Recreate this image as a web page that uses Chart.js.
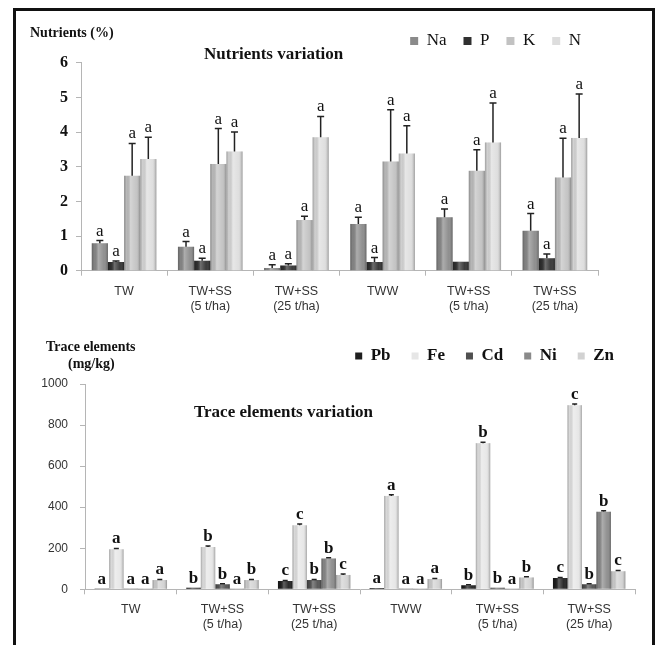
<!DOCTYPE html>
<html>
<head>
<meta charset="utf-8">
<script src="https://cdn.jsdelivr.net/npm/chart.js@4.4.0/dist/chart.umd.min.js"></script>
<style>
  body { margin: 0; background: #fff; width: 661px; height: 645px; overflow: hidden; position: relative; }
  canvas { position: absolute; left: 0; }
  #nutrients { top: 0; }
  #traces { top: 320px; }
  .frame { position: absolute; left: 13px; top: 8px; width: 642px; height: 660px; border: 3px solid #111; box-sizing: border-box; pointer-events: none; }
  .t { position: absolute; font-family: "Liberation Serif", "Times New Roman", serif; font-weight: bold; white-space: nowrap; line-height: 1; color: #111; }
</style>
</head>
<body>
<canvas id="nutrients" width="661" height="320"></canvas>
<canvas id="traces" width="661" height="325"></canvas>
<div class="t" style="left:30px;top:26px;font-size:14px">Nutrients (%)</div>
<div class="t" style="left:204px;top:45px;font-size:17px">Nutrients variation</div>
<div class="t" style="left:46px;top:340px;font-size:14px">Trace elements</div>
<div class="t" style="left:68px;top:357px;font-size:14px">(mg/kg)</div>
<div class="t" style="left:194px;top:403px;font-size:17px">Trace elements variation</div>
<div class="frame"></div>
<script>
const categories = ['TW', ['TW+SS', '(5 t/ha)'], ['TW+SS', '(25 t/ha)'], 'TWW', ['TW+SS', '(5 t/ha)'], ['TW+SS', '(25 t/ha)']];

// Nutrients (%) - mean and error (upper part only)
const naValues = [0.79, 0.69, 0.08, 1.35, 1.54, 1.15];
const naErr    = [0.08, 0.15, 0.09, 0.19, 0.24, 0.50];
const pValues  = [0.25, 0.29, 0.15, 0.25, 0.26, 0.36];
const pErr     = [0.03, 0.07, 0.05, 0.13, 0, 0.12];
const kValues  = [2.74, 3.08, 1.46, 3.15, 2.88, 2.69];
const kErr     = [0.93, 1.02, 0.11, 1.49, 0.61, 1.13];
const nValues  = [3.22, 3.44, 3.85, 3.38, 3.70, 3.83];
const nErr     = [0.63, 0.56, 0.60, 0.80, 1.14, 1.27];
const naLetters = ['a', 'a', 'a', 'a', 'a', 'a'];
const pLetters  = ['a', 'a', 'a', 'a', '', 'a'];
const kLetters  = ['a', 'a', 'a', 'a', 'a', 'a'];
const nLetters  = ['a', 'a', 'a', 'a', 'a', 'a'];
const nutrientTicks = [0, 1, 2, 3, 4, 5, 6];

// Trace elements (mg/kg)
const pbValues = [1, 8, 40, 6, 20, 55];
const feValues = [195, 206, 312, 455, 712, 897];
const cdValues = [1, 25, 45, 1, 8, 25];
const niValues = [0.5, 0.5, 150, 0.5, 0.5, 378];
const znValues = [45, 45, 70, 50, 58, 88];
const pbErr = [0, 0, 3, 0, 2, 3];
const feErr = [4, 5, 6, 5, 4, 5];
const cdErr = [0, 2, 3, 0, 0, 2];
const niErr = [0, 0, 4, 0, 0, 5];
const znErr = [3, 3, 4, 3, 3, 4];
const pbLetters = ['a', 'b', 'c', 'a', 'b', 'c'];
const feLetters = ['a', 'b', 'c', 'a', 'b', 'c'];
const cdLetters = ['a', 'b', 'b', 'a', 'b', 'b'];
const niLetters = ['a', 'a', 'b', 'a', 'a', 'b'];
const znLetters = ['a', 'b', 'c', 'a', 'b', 'c'];
const traceTicks = [0, 200, 400, 600, 800, 1000];

const SERIF = '"Liberation Serif", "Times New Roman", serif';
const SANS = '"Liberation Sans", Arial, sans-serif';

// extra room under the legend
const legendGap = {
  id: 'legendGap',
  afterInit(chart, args, opts) {
    const fit = chart.legend.fit;
    chart.legend.fit = function () {
      fit.call(this);
      this.height += opts.extra || 0;
    };
  }
};

// cylinder-like shading on top of the bars
const barShade = {
  id: 'barShade',
  afterDatasetDraw(chart, args) {
    const ctx = chart.ctx;
    ctx.save();
    args.meta.data.forEach(bar => {
      const { x, y, base, width } = bar.getProps(['x', 'y', 'base', 'width'], true);
      const l = x - width / 2;
      const g = ctx.createLinearGradient(l, 0, l + width, 0);
      g.addColorStop(0, 'rgba(0,0,0,0.28)');
      g.addColorStop(0.15, 'rgba(0,0,0,0.05)');
      g.addColorStop(0.4, 'rgba(255,255,255,0.3)');
      g.addColorStop(0.75, 'rgba(255,255,255,0.05)');
      g.addColorStop(1, 'rgba(0,0,0,0.3)');
      ctx.fillStyle = g;
      ctx.fillRect(l, Math.min(y, base), width, Math.abs(base - y));
    });
    ctx.restore();
  }
};

// error bars + significance letters
const errorBars = {
  id: 'errorBars',
  afterDatasetsDraw(chart, args, opts) {
    const ctx = chart.ctx;
    const yScale = chart.scales.y;
    ctx.save();
    chart.data.datasets.forEach((ds, di) => {
      const meta = chart.getDatasetMeta(di);
      meta.data.forEach((bar, i) => {
        const v = ds.data[i];
        const e = ds.err ? ds.err[i] : 0;
        const top = yScale.getPixelForValue(v + e);
        if (e > 0) {
          ctx.strokeStyle = '#222';
          ctx.lineWidth = opts.lineWidth;
          ctx.beginPath();
          ctx.moveTo(bar.x, yScale.getPixelForValue(v));
          ctx.lineTo(bar.x, top);
          ctx.moveTo(bar.x - opts.cap / 2, top);
          ctx.lineTo(bar.x + opts.cap / 2, top);
          ctx.stroke();
        }
        const letter = ds.letters ? ds.letters[i] : '';
        if (letter) {
          ctx.fillStyle = '#111';
          ctx.font = opts.font;
          ctx.textAlign = 'center';
          ctx.textBaseline = 'alphabetic';
          ctx.fillText(letter, bar.x, top - opts.gap);
        }
      });
    });
    ctx.restore();
  }
};

function makeChart(id, datasets, cfg) {
  return new Chart(document.getElementById(id), {
    type: 'bar',
    data: { labels: categories, datasets: datasets },
    plugins: [legendGap, barShade, errorBars],
    options: {
      responsive: false,
      animation: false,
      layout: { padding: cfg.padding },
      datasets: { bar: { categoryPercentage: cfg.catPct, barPercentage: 1.0, borderWidth: 0 } },
      plugins: {
        legend: {
          position: 'top',
          align: 'end',
          labels: {
            boxWidth: cfg.box,
            boxHeight: cfg.box,
            padding: cfg.legendPad,
            color: '#111',
            font: cfg.legendFont
          }
        },
        legendGap: { extra: cfg.legendExtra },
        errorBars: cfg.errorBars,
        tooltip: { enabled: false }
      },
      scales: {
        x: {
          afterFit: s => { s.height = cfg.xHeight; },
          grid: { display: true, drawOnChartArea: false, drawTicks: true, tickLength: 5, color: '#b5b5b5', offset: true },
          border: { display: true, color: '#b5b5b5' },
          ticks: { padding: cfg.xPad, color: '#333', font: { family: SANS, size: 12.5, lineHeight: 1.15 } }
        },
        y: {
          min: cfg.ticks[0],
          max: cfg.ticks[cfg.ticks.length - 1],
          afterFit: s => { s.width = cfg.yWidth; },
          afterBuildTicks: s => { s.ticks = cfg.ticks.map(v => ({ value: v })); },
          grid: { display: true, drawOnChartArea: false, drawTicks: true, tickLength: 5, color: '#b5b5b5' },
          border: { display: true, color: '#b5b5b5' },
          ticks: { padding: cfg.yPad, color: cfg.yColor, font: cfg.yFont, callback: v => String(v) }
        }
      }
    }
  });
}

makeChart('nutrients', [
  { label: 'Na', data: naValues, err: naErr, letters: naLetters, backgroundColor: '#8a8a8a' },
  { label: 'P', data: pValues, err: pErr, letters: pLetters, backgroundColor: '#303030' },
  { label: 'K', data: kValues, err: kErr, letters: kLetters, backgroundColor: '#c2c2c2' },
  { label: 'N', data: nValues, err: nErr, letters: nLetters, backgroundColor: '#dddddd' }
], {
  padding: { top: 15.5, right: 63, left: 0, bottom: 0 },
  catPct: 0.75,
  box: 8,
  legendPad: 17,
  legendFont: { family: SERIF, size: 17 },
  legendExtra: 3.2,
  errorBars: { lineWidth: 1.5, cap: 7, gap: 5, font: '17px ' + SERIF },
  xHeight: 49.3,
  xPad: 9,
  yWidth: 81,
  yPad: 8,
  ticks: nutrientTicks,
  yColor: '#111',
  yFont: { family: SERIF, size: 16, weight: 'bold' }
});

makeChart('traces', [
  { label: 'Pb', data: pbValues, err: pbErr, letters: pbLetters, backgroundColor: '#1e1e1e' },
  { label: 'Fe', data: feValues, err: feErr, letters: feLetters, backgroundColor: '#e6e6e6' },
  { label: 'Cd', data: cdValues, err: cdErr, letters: cdLetters, backgroundColor: '#505050' },
  { label: 'Ni', data: niValues, err: niErr, letters: niLetters, backgroundColor: '#8a8a8a' },
  { label: 'Zn', data: znValues, err: znErr, letters: znLetters, backgroundColor: '#d2d2d2' }
], {
  padding: { top: 6.5, right: 26, left: 0, bottom: 0 },
  catPct: 0.79,
  box: 7,
  legendPad: 21,
  legendFont: { family: SERIF, size: 17, weight: 'bold' },
  legendExtra: 9.5,
  errorBars: { lineWidth: 1.5, cap: 5, gap: 5, font: 'bold 17px ' + SERIF },
  xHeight: 55.7,
  xPad: 8.5,
  yWidth: 85,
  yPad: 12,
  ticks: traceTicks,
  yColor: '#333',
  yFont: { family: SANS, size: 12 }
});
</script>
</body>
</html>
